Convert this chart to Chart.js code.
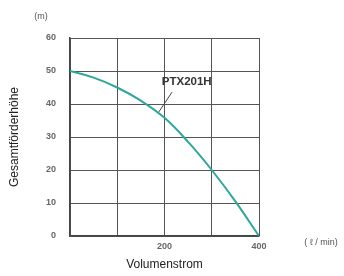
<!DOCTYPE html>
<html>
<head>
    <title>PTX201H Kennlinie</title>
    <script src="https://cdn.jsdelivr.net/npm/chart.js"></script>
    <style>
        body {margin: 0; background: #fff;}
        #wrap {width: 344px; height: 276px;}
    </style>
</head>
<body>
    <div id="wrap"><canvas id="myChart" width="344" height="276"></canvas></div>
    <script>
        // flow (l/min) and head (m)
        var flow = [0, 50, 100, 150, 200, 250, 300, 350, 400];
        var head = [50, 48, 45, 41, 35.8, 28.5, 20, 10.5, 0];
        var yTicks = [0, 10, 20, 30, 40, 50, 60];
        var xLabeled = [200, 400];

        var points = flow.map(function(f, i) { return {x: f, y: head[i]}; });

        var extras = {
            id: 'extras',
            afterDraw: function(chart) {
                var ctx = chart.ctx;
                var xs = chart.scales.x, ys = chart.scales.y;
                ctx.save();
                ctx.fillStyle = '#555';
                ctx.font = '9px "Liberation Sans", sans-serif';
                ctx.textAlign = 'center';
                ctx.textBaseline = 'middle';
                ctx.fillText('(m)', 41, 17);
                ctx.fillText('( \u2113 / min)', 321, 243);
                // curve label with leader
                ctx.fillStyle = '#333';
                ctx.font = 'bold 11.5px "Liberation Sans", sans-serif';
                ctx.fillText('PTX201H', xs.getPixelForValue(247), ys.getPixelForValue(46.8));
                ctx.strokeStyle = '#444';
                ctx.lineWidth = 1;
                ctx.beginPath();
                ctx.moveTo(xs.getPixelForValue(216), ys.getPixelForValue(43.6));
                ctx.lineTo(xs.getPixelForValue(188), ys.getPixelForValue(37.6));
                ctx.stroke();
                ctx.restore();
            }
        };

        var ctx = document.getElementById('myChart').getContext('2d');
        new Chart(ctx, {
            type: 'line',
            data: {
                datasets: [{
                    label: 'PTX201H',
                    data: points,
                    borderColor: '#2ea79b',
                    borderWidth: 2,
                    pointRadius: 0,
                    tension: 0.4,
                    fill: false
                }]
            },
            options: {
                responsive: false,
                animation: false,
                layout: {padding: {top: 38, right: 85, left: 0, bottom: 0}},
                plugins: {legend: {display: false}, tooltip: {enabled: false}},
                scales: {
                    x: {
                        type: 'linear',
                        min: 0, max: 400,
                        afterFit: function(s) { s.height = 40; },
                        grid: {color: '#555', lineWidth: 1, drawTicks: false},
                        border: {color: '#444', width: 1.5},
                        ticks: {
                            stepSize: 100,
                            padding: 5,
                            color: '#666',
                            font: {size: 9, weight: 'bold', family: 'Liberation Sans'},
                            maxRotation: 0,
                            callback: function(v) { return xLabeled.indexOf(v) >= 0 ? v : ''; }
                        },
                        title: {
                            display: true,
                            text: 'Volumenstrom',
                            color: '#222',
                            padding: {top: 6},
                            font: {size: 12, family: 'Liberation Sans'}
                        }
                    },
                    y: {
                        min: 0, max: 60,
                        afterFit: function(s) { s.width = 70; },
                        afterBuildTicks: function(s) { s.ticks = yTicks.map(function(v) { return {value: v}; }); },
                        grid: {color: '#555', lineWidth: 1, drawTicks: false},
                        border: {color: '#444', width: 1.5},
                        ticks: {
                            padding: 14,
                            color: '#666',
                            font: {size: 9, weight: 'bold', family: 'Liberation Sans'}
                        },
                        title: {
                            display: true,
                            text: 'Gesamtförderhöhe',
                            color: '#222',
                            padding: {top: 7},
                            font: {size: 12, family: 'Liberation Sans'}
                        }
                    }
                }
            },
            plugins: [extras]
        });
    </script>
</body>
</html>
